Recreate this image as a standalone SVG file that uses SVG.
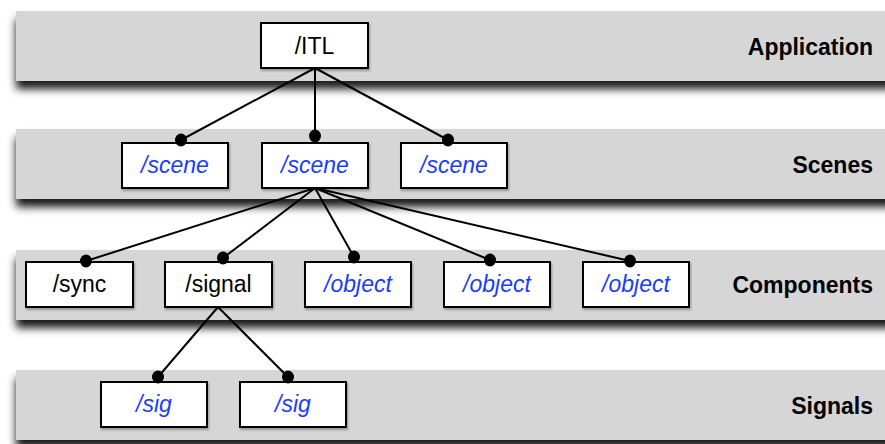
<svg xmlns="http://www.w3.org/2000/svg" width="885" height="444" viewBox="0 0 885 444">
<defs>
<filter id="bandShadow" x="-5%" y="-30%" width="110%" height="170%">
<feDropShadow dx="0" dy="8" stdDeviation="4.5" flood-color="#000" flood-opacity="0.9"/>
</filter>
<filter id="boxShadow" x="-10%" y="-10%" width="130%" height="140%">
<feDropShadow dx="1" dy="2" stdDeviation="1" flood-color="#000" flood-opacity="0.3"/>
</filter>
<style>
.band{fill:#d6d6d6;filter:url(#bandShadow)}
.box{fill:#fff;stroke:#000;stroke-width:2;filter:url(#boxShadow)}
.t{font-family:"Liberation Sans",Arial,sans-serif;font-size:23px;text-anchor:middle}
.blue{fill:#1a3cff;font-style:italic}
.blk{fill:#000}
.lbl{font-family:"Liberation Sans",Arial,sans-serif;font-size:23px;font-weight:bold;text-anchor:end;fill:#000}
.ln{stroke:#000;stroke-width:2;fill:none}
.dot{fill:#000}
</style>
</defs>
<rect width="885" height="444" fill="#fff"/>
<g id="bands">
<rect class="band" x="16" y="11" width="880" height="70"/>
<rect class="band" x="16" y="129" width="880" height="70"/>
<rect class="band" x="16" y="250" width="880" height="70"/>
<rect class="band" x="16" y="370" width="880" height="70"/>
<text class="lbl" x="873" y="55">Application</text>
<text class="lbl" x="873" y="173">Scenes</text>
<text class="lbl" x="873" y="293">Components</text>
<text class="lbl" x="873" y="414">Signals</text>
</g>
<g id="connectors">
<line class="ln" x1="315" y1="68" x2="181" y2="140"/>
<line class="ln" x1="315" y1="68" x2="315" y2="136"/>
<line class="ln" x1="315" y1="68" x2="448" y2="140"/>
<line class="ln" x1="315" y1="188" x2="86" y2="261"/>
<line class="ln" x1="315" y1="188" x2="223" y2="258"/>
<line class="ln" x1="315" y1="188" x2="354" y2="257"/>
<line class="ln" x1="315" y1="188" x2="490" y2="260"/>
<line class="ln" x1="315" y1="188" x2="630" y2="261"/>
<line class="ln" x1="218" y1="307" x2="158" y2="377"/>
<line class="ln" x1="218" y1="307" x2="288" y2="377"/>
</g>
<g id="n-itl"><rect class="box" x="261" y="23" width="107" height="45"/><text class="t blk" x="314.5" y="54">/ITL</text></g>
<g id="n-scene1"><rect class="box" x="122" y="143" width="106" height="45"/><text class="t blue" x="175" y="173">/scene</text></g>
<g id="n-scene2"><rect class="box" x="262" y="143" width="106" height="45"/><text class="t blue" x="315" y="173">/scene</text></g>
<g id="n-scene3"><rect class="box" x="401" y="143" width="106" height="45"/><text class="t blue" x="454" y="173">/scene</text></g>
<g id="n-sync"><rect class="box" x="26" y="262" width="107" height="45"/><text class="t blk" x="79.5" y="292">/sync</text></g>
<g id="n-signal"><rect class="box" x="165" y="262" width="107" height="45"/><text class="t blk" x="218.5" y="292">/signal</text></g>
<g id="n-object1"><rect class="box" x="305" y="262" width="106" height="45"/><text class="t blue" x="358" y="292">/object</text></g>
<g id="n-object2"><rect class="box" x="444" y="262" width="106" height="45"/><text class="t blue" x="497" y="292">/object</text></g>
<g id="n-object3"><rect class="box" x="583" y="262" width="106" height="45"/><text class="t blue" x="636" y="292">/object</text></g>
<g id="n-sig1"><rect class="box" x="101" y="382" width="106" height="45"/><text class="t blue" x="154" y="412">/sig</text></g>
<g id="n-sig2"><rect class="box" x="240" y="382" width="106" height="45"/><text class="t blue" x="293" y="412">/sig</text></g>
<g id="ends">
<ellipse class="dot" cx="181" cy="140" rx="6" ry="6.5"/>
<ellipse class="dot" cx="315" cy="136" rx="6" ry="6.5"/>
<ellipse class="dot" cx="448" cy="140" rx="6" ry="6.5"/>
<ellipse class="dot" cx="86" cy="261" rx="6" ry="6.5"/>
<ellipse class="dot" cx="223" cy="258" rx="6" ry="6.5"/>
<ellipse class="dot" cx="354" cy="257" rx="6" ry="6.5"/>
<ellipse class="dot" cx="490" cy="260" rx="6" ry="6.5"/>
<ellipse class="dot" cx="630" cy="261" rx="6" ry="6.5"/>
<ellipse class="dot" cx="158" cy="377" rx="6" ry="6.5"/>
<ellipse class="dot" cx="288" cy="377" rx="6" ry="6.5"/>
</g>
</svg>
